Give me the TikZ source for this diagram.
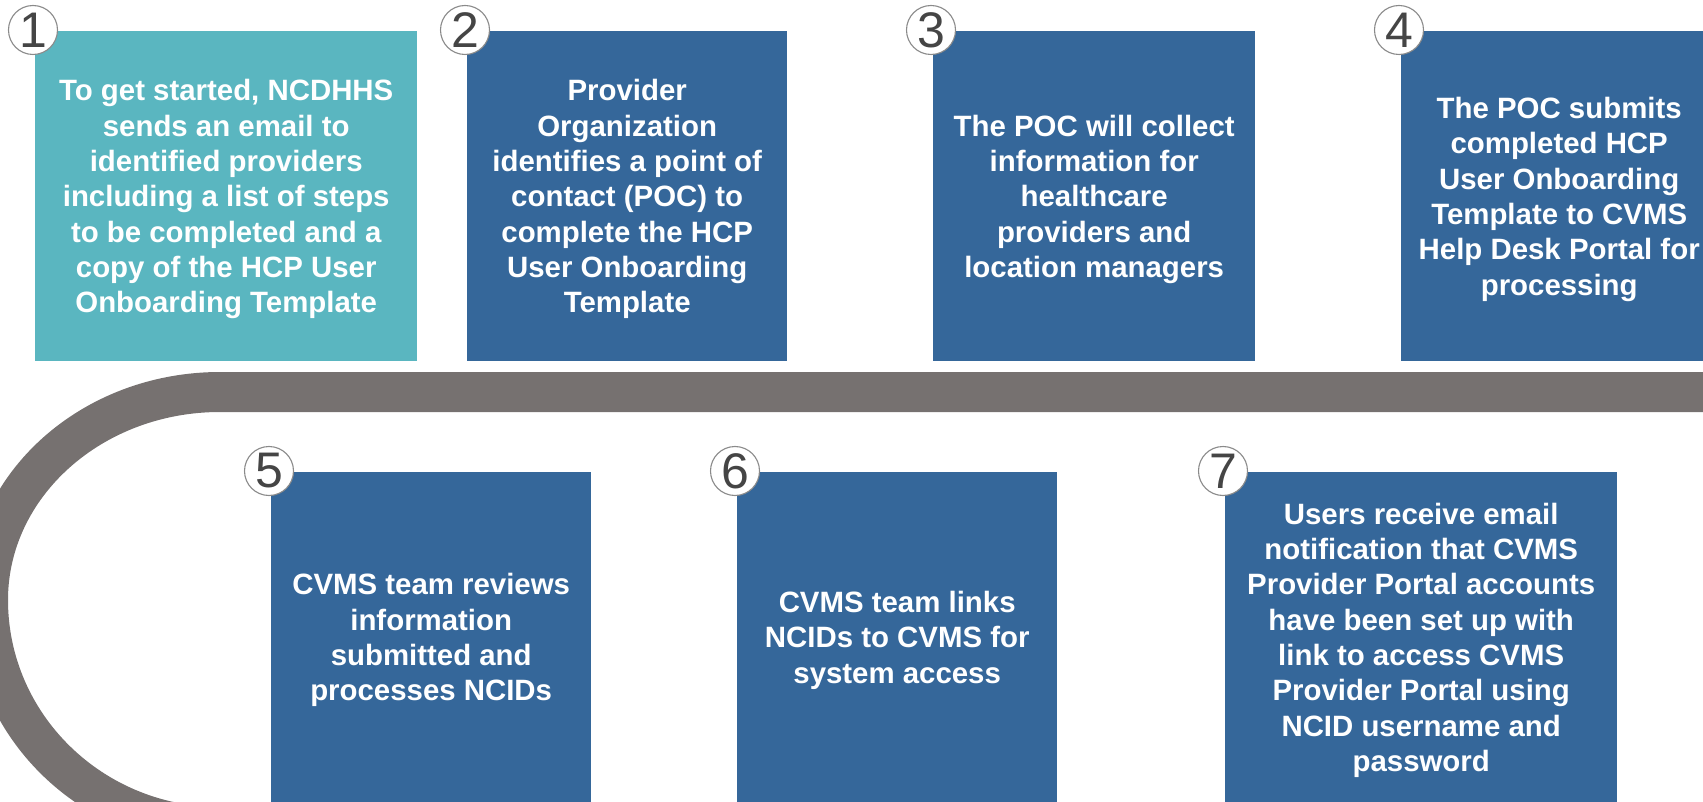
\documentclass[tikz,border=0pt]{standalone}
\usepackage{fontspec}
\setmainfont{Liberation Sans}
\usetikzlibrary{positioning}

\definecolor{stepteal}{HTML}{5AB6C0}
\definecolor{stepblue}{HTML}{35679A}
\definecolor{bandgray}{HTML}{767170}
\definecolor{ringgray}{HTML}{8A8A8A}
\definecolor{digitgray}{HTML}{454545}

\tikzset{
    stepbox/.style={fill=stepblue, text=white, anchor=north west, align=center,
        inner sep=0pt, minimum height=330pt, text depth=-5pt,
        font=\bfseries\fontsize{29.4}{35.3}\selectfont},
    stepnum/.style={circle, draw=ringgray, line width=1.1pt, fill=white,
        text=digitgray, minimum size=49pt, inner sep=0pt,
        font=\fontsize{50}{50}\selectfont},
    track/.style={draw=bandgray, line width=40pt}
}

\begin{document}
\begin{tikzpicture}[x=1pt, y=-1pt]
    \useasboundingbox (0,0) rectangle (1703,802);
    \clip (0,0) rectangle (1703,802);

    % the grey track running behind both rows
    \coordinate (tr) at (1720,392);
    \coordinate (tl) at (220,392);
    \draw[track] (tr) -- (tl)
        arc[start angle=270, end angle=180, x radius=232, y radius=208]
        arc[start angle=180, end angle=90, x radius=232, y radius=227];

    % top row
    \node[stepbox, fill=stepteal, minimum width=382pt] (b1) at (35,31)
        {To get started, NCDHHS\\ sends an email to\\ identified providers\\
         including a list of steps\\ to be completed and a\\ copy of the HCP User\\
         Onboarding Template};
    \node[stepbox, minimum width=320pt] (b2) at (467,31)
        {Provider\\ Organization\\ identifies a point of\\ contact (POC) to\\
         complete the HCP\\ User Onboarding\\ Template};
    \node[stepbox, minimum width=322pt] (b3) at (933,31)
        {The POC will collect\\ information for\\ healthcare\\ providers and\\
         location managers};
    \node[stepbox, minimum width=316pt] (b4) at (1401,31)
        {The POC submits\\ completed HCP\\ User Onboarding\\ Template to CVMS\\
         Help Desk Portal for\\ processing};

    % bottom row
    \node[stepbox, minimum width=320pt] (b5) at (271,472)
        {CVMS team reviews\\ information\\ submitted and\\ processes NCIDs};
    \node[stepbox, minimum width=320pt] (b6) at (737,472)
        {CVMS team links\\ NCIDs to CVMS for\\ system access};
    \node[stepbox, minimum width=392pt] (b7) at (1225,472)
        {Users receive email\\ notification that CVMS\\ Provider Portal accounts\\
         have been set up with\\ link to access CVMS\\ Provider Portal using\\
         NCID username and\\ password};

    % numbered badges on the corners
    \foreach \i in {1,...,7}
        \node[stepnum] (n\i) at ([shift={(-2,-1)}]b\i.north west) {\i};
\end{tikzpicture}
\end{document}
